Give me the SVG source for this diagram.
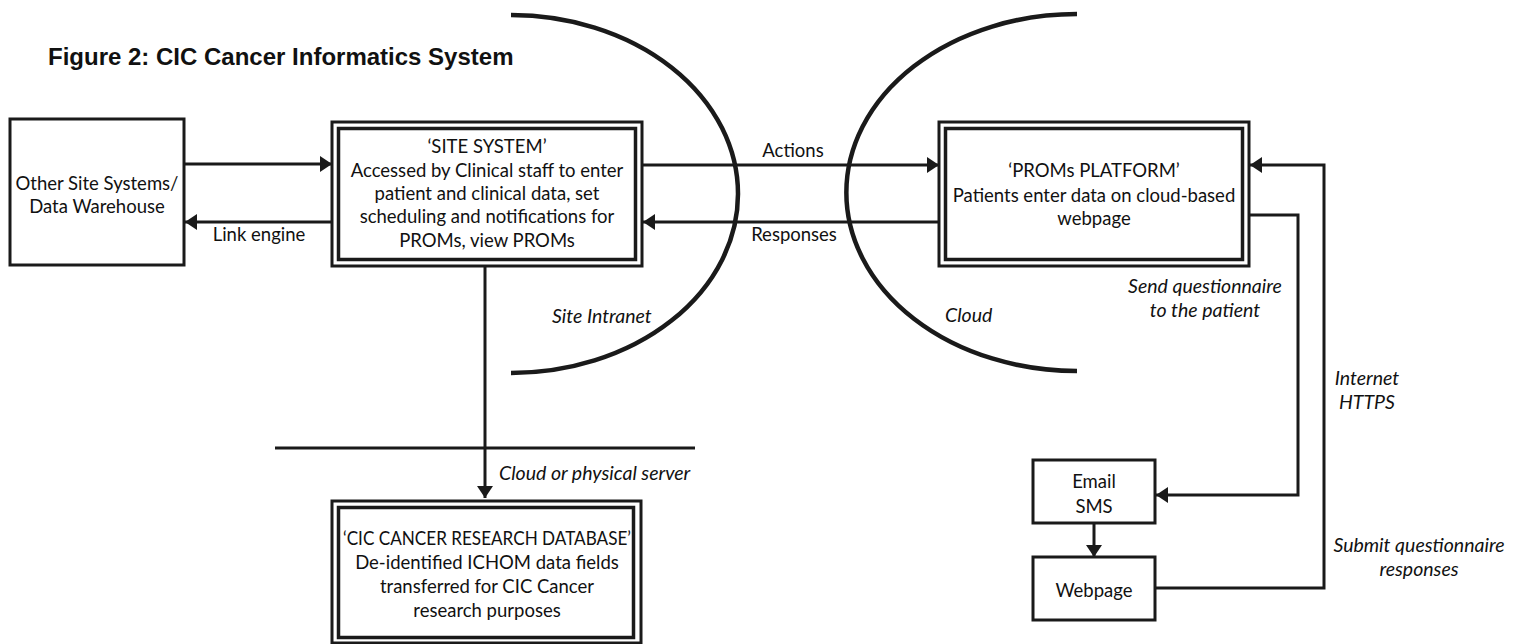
<svg xmlns="http://www.w3.org/2000/svg" width="1519" height="644" viewBox="0 0 1519 644">
<style>
  .bg { fill: #ffffff; }
  .title { font-family: "Liberation Sans", Arial, sans-serif; font-weight: bold; font-size: 24px; fill: #111; }
  .t { font-family: Lato, "Open Sans", sans-serif; font-size: 18.5px; fill: #111; text-anchor: middle; }
  .it { font-family: Lato, "Open Sans", sans-serif; font-size: 19.5px; font-style: italic; fill: #111; }
  .box { fill: #ffffff; stroke: #1a1a1a; stroke-width: 3; }
  .inner { fill: none; stroke: #1a1a1a; stroke-width: 3.5; }
  .line { fill: none; stroke: #1a1a1a; stroke-width: 3; }
  .arc { fill: none; stroke: #1a1a1a; stroke-width: 4.5; }
</style>
<defs>
  <marker id="ah" markerUnits="userSpaceOnUse" markerWidth="12" markerHeight="16" refX="12" refY="8" orient="auto">
    <path d="M0,0 L12,8 L0,16 Z" fill="#1a1a1a"/>
  </marker>
</defs>
<rect class="bg" x="0" y="0" width="1519" height="644"/>
<text class="title" x="48" y="65">Figure 2: CIC Cancer Informatics System</text>

<g id="boundaries">
  <path class="arc" d="M511,15 A227,179 0 0 1 511,373"/>
  <path class="arc" d="M1077,14 A230,178 0 0 0 1077,371"/>
  <line class="line" x1="275" y1="448" x2="695" y2="448"/>
  <text class="it" x="552" y="323">Site Intranet</text>
  <text class="it" x="945" y="322">Cloud</text>
</g>

<g id="connectors">
  <line class="line" x1="184" y1="164" x2="332" y2="164" marker-end="url(#ah)"/>
  <line class="line" x1="332" y1="222" x2="185" y2="222" marker-end="url(#ah)"/>
  <text class="t" x="259" y="241">Link engine</text>
  <line class="line" x1="642" y1="165" x2="939" y2="165" marker-end="url(#ah)"/>
  <text class="t" x="793" y="157">Actions</text>
  <line class="line" x1="939" y1="222" x2="643" y2="222" marker-end="url(#ah)"/>
  <text class="t" x="794" y="241">Responses</text>
  <line class="line" x1="485" y1="266" x2="485" y2="498" marker-end="url(#ah)"/>
  <text class="it" x="499" y="480">Cloud or physical server</text>
  <polyline class="line" points="1249,215 1298,215 1298,495 1156,495" marker-end="url(#ah)"/>
  <text class="it" x="1205" y="293" text-anchor="middle">Send questionnaire</text>
  <text class="it" x="1205" y="317" text-anchor="middle">to the patient</text>
  <polyline class="line" points="1155,588 1324,588 1324,165 1250,165" marker-end="url(#ah)"/>
  <text class="it" x="1367" y="385" text-anchor="middle">Internet</text>
  <text class="it" x="1367" y="409" text-anchor="middle">HTTPS</text>
  <text class="it" x="1419" y="552" text-anchor="middle">Submit questionnaire</text>
  <text class="it" x="1419" y="576" text-anchor="middle">responses</text>
  <line class="line" x1="1094" y1="523" x2="1094" y2="557" marker-end="url(#ah)"/>
</g>

<g id="other-systems">
  <rect class="box" x="10" y="119" width="174" height="146"/>
  <text class="t" x="97" y="190">Other Site Systems/</text>
  <text class="t" x="97" y="213">Data Warehouse</text>
</g>

<g id="site-system">
  <rect class="box" x="332" y="122" width="310" height="144"/>
  <rect class="inner" x="338.5" y="128.5" width="297" height="131"/>
  <text class="t" x="487" y="153">‘SITE SYSTEM’</text>
  <text class="t" x="487" y="177">Accessed by Clinical staff to enter</text>
  <text class="t" x="487" y="200">patient and clinical data, set</text>
  <text class="t" x="487" y="223">scheduling and notifications for</text>
  <text class="t" x="487" y="247">PROMs, view PROMs</text>
</g>

<g id="proms-platform">
  <rect class="box" x="939" y="122" width="310" height="144"/>
  <rect class="inner" x="945.5" y="128.5" width="297" height="131"/>
  <text class="t" x="1094" y="177">‘PROMs PLATFORM’</text>
  <text class="t" x="1094" y="202">Patients enter data on cloud-based</text>
  <text class="t" x="1094" y="225">webpage</text>
</g>

<g id="research-db">
  <rect class="box" x="332" y="501" width="309" height="142"/>
  <rect class="inner" x="338.5" y="507.5" width="295" height="130"/>
  <text class="t" x="487" y="545" textLength="288" lengthAdjust="spacingAndGlyphs">‘CIC CANCER RESEARCH DATABASE’</text>
  <text class="t" x="487" y="569">De-identified ICHOM data fields</text>
  <text class="t" x="487" y="593">transferred for CIC Cancer</text>
  <text class="t" x="487" y="617">research purposes</text>
</g>

<g id="email-sms">
  <rect class="box" x="1033" y="460" width="122" height="63"/>
  <text class="t" x="1094" y="488">Email</text>
  <text class="t" x="1094" y="513">SMS</text>
</g>

<g id="webpage">
  <rect class="box" x="1033" y="557" width="122" height="63"/>
  <text class="t" x="1094" y="597">Webpage</text>
</g>
</svg>
